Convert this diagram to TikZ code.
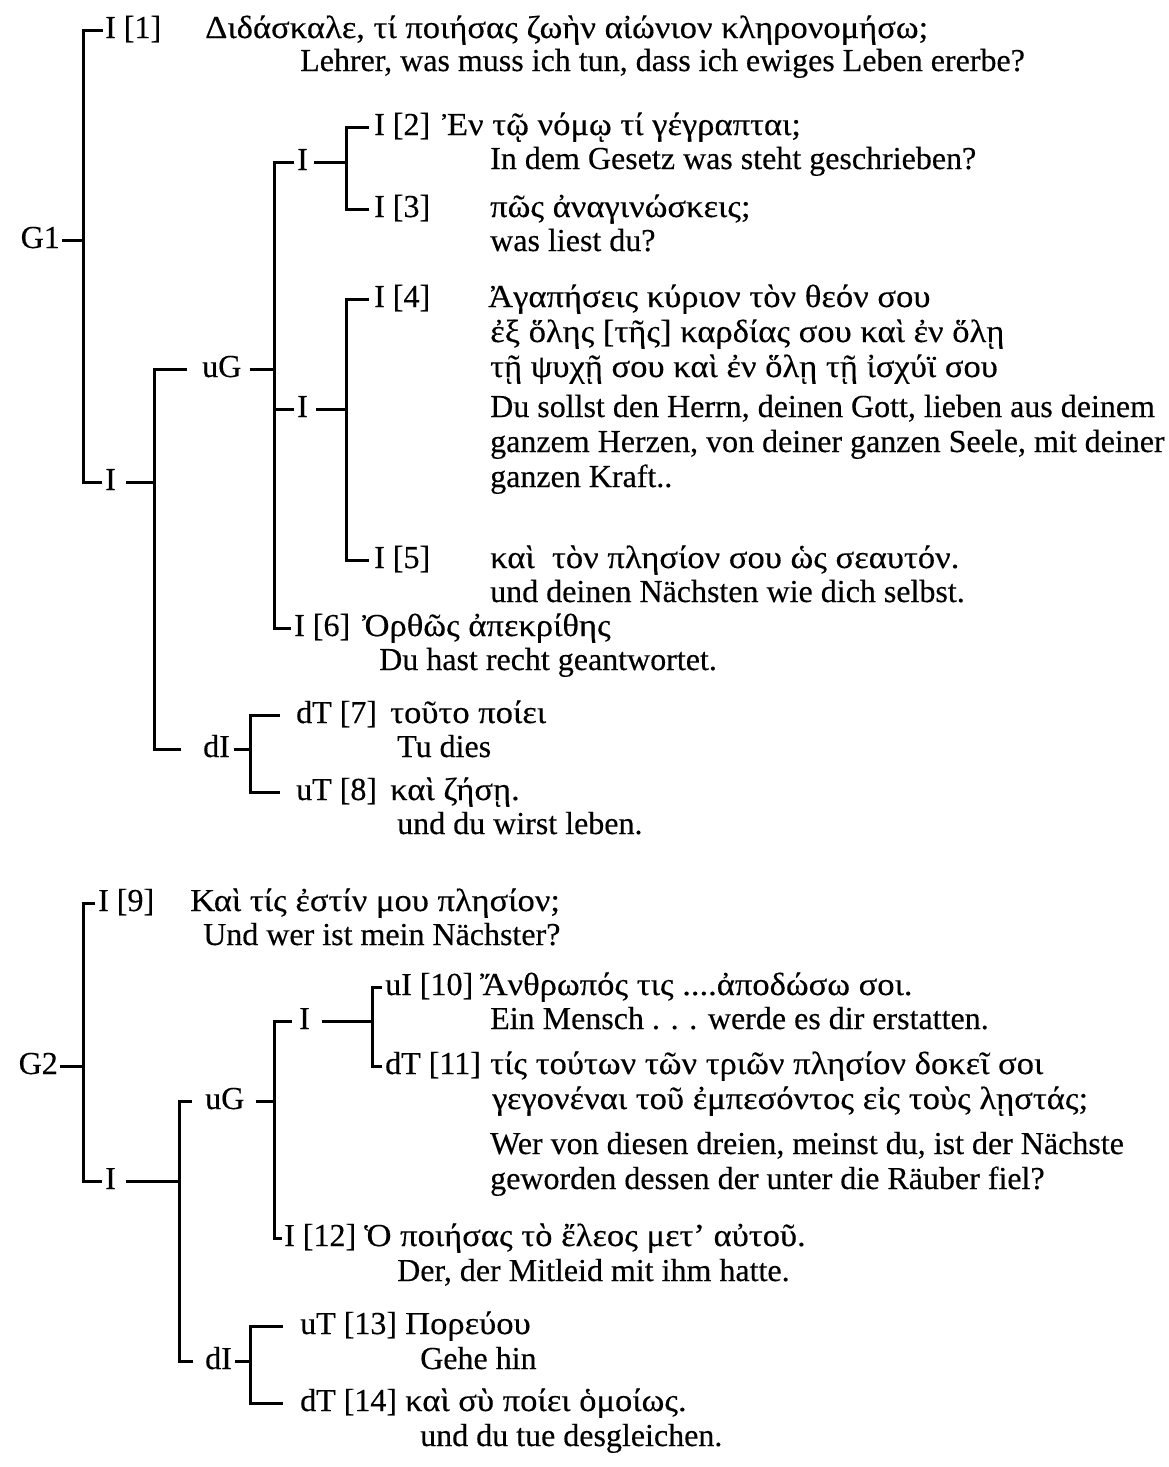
\documentclass[tikz,border=0pt]{standalone}
\usepackage{fontspec}
\setmainfont{Liberation Serif}[FakeBold=0.35]
\newfontfamily\grk{Liberation Serif}[FakeStretch=1.08, FakeBold=0.35]
\begin{document}
\begin{tikzpicture}[x=1pt,y=-1pt,
  every node/.style={inner sep=0pt, font=\fontsize{32}{34}\selectfont},
  lbl/.style={anchor=west, text height=22pt, text depth=6pt},
  lble/.style={anchor=east, text height=22pt, text depth=6pt},
  txt/.style={anchor=west, text height=22pt, text depth=6pt},
  gtxt/.style={txt, font=\fontsize{32}{34}\grk},
  link/.style={line width=3pt}]
\useasboundingbox (0,0) rectangle (1168,1467);

% x positions of the vertical bars
\coordinate (b1) at (83,0);
\coordinate (b2) at (154,0);
\coordinate (b3) at (274,0);
\coordinate (b4) at (346,0);
\coordinate (b6) at (250,0);
\coordinate (b7) at (83,0);
\coordinate (b8) at (179,0);
\coordinate (b9) at (274,0);
\coordinate (b10) at (372,0);
\coordinate (b11) at (250,0);

% ---------------- G1 ----------------
\node[lble] (g1) at (60,240) {G1};
\node[lbl] (n1) at (105,30) {I [1]};
\node[gtxt] (n1g) at (205,30) {Διδάσκαλε, τί ποιήσας ζωὴν αἰώνιον κληρονομήσω;};
\node[txt] (n1d) at (300,63) {Lehrer, was muss ich tun, dass ich ewiges Leben ererbe?};

\node[lbl] (j1) at (105,482) {I};
\node[lbl] (ug1) at (202,369) {uG};
\node[lbl] (di1) at (203,749) {dI};
\node[lbl] (ia) at (297,162) {I};
\node[lbl] (ib) at (297,409) {I};

\node[lbl] (n2) at (374,127) {I [2]};
\node[gtxt] (n2g) at (442,127) {Ἐν τῷ νόμῳ τί γέγραπται;};
\node[txt] (n2d) at (490,161) {In dem Gesetz was steht geschrieben?};

\node[lbl] (n3) at (374,209) {I [3]};
\node[gtxt] (n3g) at (490,209) {πῶς ἀναγινώσκεις;};
\node[txt] (n3d) at (490,243) {was liest du?};

\node[lbl] (n4) at (374,299) {I [4]};
\node[gtxt] (n4g1) at (488,299) {Ἀγαπήσεις κύριον τὸν θεόν σου};
\node[gtxt] (n4g2) at (490,334) {ἐξ ὅλης [τῆς] καρδίας σου καὶ ἐν ὅλῃ};
\node[gtxt] (n4g3) at (490,369) {τῇ ψυχῇ σου καὶ ἐν ὅλῃ τῇ ἰσχύϊ σου};
\node[txt] (n4d1) at (490,409) {Du sollst den Herrn, deinen Gott, lieben aus deinem};
\node[txt] (n4d2) at (490,444) {ganzem Herzen, von deiner ganzen Seele, mit deiner};
\node[txt] (n4d3) at (490,479) {ganzen Kraft..};

\node[lbl] (n5) at (374,560) {I [5]};
\node[gtxt] (n5g) at (490,560) {καὶ\ \ τὸν πλησίον σου ὡς σεαυτόν.};
\node[txt] (n5d) at (490,594) {und deinen Nächsten wie dich selbst.};

\node[lbl] (n6) at (294,628) {I [6]};
\node[gtxt] (n6g) at (362,628) {Ὀρθῶς ἀπεκρίθης};
\node[txt] (n6d) at (379,662) {Du hast recht geantwortet.};

\node[lbl] (n7) at (296,715) {dT [7]};
\node[gtxt] (n7g) at (390,715) {τοῦτο ποίει};
\node[txt] (n7d) at (397,749) {Tu dies};

\node[lbl] (n8) at (296,792) {uT [8]};
\node[gtxt] (n8g) at (390,792) {καὶ ζήσῃ.};
\node[txt] (n8d) at (397,826) {und du wirst leben.};

% connectors of G1
\draw[link, shorten <=2pt] (g1.east) -- (g1.east -| b1);
\draw[link, shorten <=2pt, shorten >=3pt] (n1.west) -- (n1.west -| b1) -- (j1.west -| b1) -- (j1.west);
\draw[link, shorten <=10pt] (j1.east) -- (j1.east -| b2);
\draw[link, shorten <=15pt, shorten >=22pt] (ug1.west) -- (ug1.west -| b2) -- (di1.west -| b2) -- (di1.west);
\draw[link, shorten <=8pt] (ug1.east) -- (ug1.east -| b3);
\draw[link, shorten <=3pt, shorten >=3pt] (ia.west) -- (ia.west -| b3) -- (n6.west -| b3) -- (n6.west);
\draw[link, shorten <=3pt] (ib.west) -- (ib.west -| b3);
\draw[link, shorten <=6pt] (ia.east) -- (ia.east -| b4);
\draw[link, shorten <=5pt, shorten >=5pt] (n2.west) -- (n2.west -| b4) -- (n3.west -| b4) -- (n3.west);
\draw[link, shorten <=8pt] (ib.east) -- (ib.east -| b4);
\draw[link, shorten <=5pt, shorten >=5pt] (n4.west) -- (n4.west -| b4) -- (n5.west -| b4) -- (n5.west);
\draw[link, shorten <=4pt] (di1.east) -- (di1.east -| b6);
\draw[link, shorten <=16pt, shorten >=16pt] (n7.west) -- (n7.west -| b6) -- (n8.west -| b6) -- (n8.west);

% ---------------- G2 ----------------
\node[lble] (g2) at (58,1066) {G2};
\node[lbl] (n9) at (98,903) {I [9]};
\node[gtxt] (n9g) at (190,903) {Καὶ τίς ἐστίν μου πλησίον;};
\node[txt] (n9d) at (203,937) {Und wer ist mein Nächster?};

\node[lbl] (j2) at (105,1181) {I};
\node[lbl] (ug2) at (205,1101) {uG};
\node[lbl] (di2) at (205,1361) {dI};
\node[lbl] (ic) at (299,1021) {I};

\node[lbl] (n10) at (385,987) {uI [10]};
\node[gtxt] (n10g) at (480,987) {Ἄνθρωπός τις ....ἀποδώσω σοι.};
\node[txt] (n10d) at (490,1021) {Ein Mensch . . . werde es dir erstatten.};

\node[lbl] (n11) at (385,1066) {dT [11]};
\node[gtxt] (n11g1) at (490,1066) {τίς τούτων τῶν τριῶν πλησίον δοκεῖ σοι};
\node[gtxt] (n11g2) at (492,1101) {γεγονέναι τοῦ ἐμπεσόντος εἰς τοὺς λῃστάς;};
\node[txt] (n11d1) at (490,1146) {Wer von diesen dreien, meinst du, ist der Nächste};
\node[txt] (n11d2) at (490,1181) {geworden dessen der unter die Räuber fiel?};

\node[lbl] (n12) at (284,1238) {I [12]};
\node[gtxt] (n12g) at (364,1238) {Ὁ ποιήσας τὸ ἔλεος μετ’ αὐτοῦ.};
\node[txt] (n12d) at (397,1273) {Der, der Mitleid mit ihm hatte.};

\node[lbl] (n13) at (300,1326) {uT [13]};
\node[gtxt] (n13g) at (405,1326) {Πορεύου};
\node[txt] (n13d) at (420,1361) {Gehe hin};

\node[lbl] (n14) at (300,1403) {dT [14]};
\node[gtxt] (n14g) at (405,1403) {καὶ σὺ ποίει ὁμοίως.};
\node[txt] (n14d) at (420,1438) {und du tue desgleichen.};

% connectors of G2
\draw[link, shorten <=2pt] (g2.east) -- (g2.east -| b7);
\draw[link, shorten <=3pt, shorten >=3pt] (n9.west) -- (n9.west -| b7) -- (j2.west -| b7) -- (j2.west);
\draw[link, shorten <=10pt] (j2.east) -- (j2.east -| b8);
\draw[link, shorten <=13pt, shorten >=12pt] (ug2.west) -- (ug2.west -| b8) -- (di2.west -| b8) -- (di2.west);
\draw[link, shorten <=11pt] (ug2.east) -- (ug2.east -| b9);
\draw[link, shorten <=7pt, shorten >=2pt] (ic.west) -- (ic.west -| b9) -- (n12.west -| b9) -- (n12.west);
\draw[link, shorten <=12pt] (ic.east) -- (ic.east -| b10);
\draw[link, shorten <=3pt, shorten >=3pt] (n10.west) -- (n10.west -| b10) -- (n11.west -| b10) -- (n11.west);
\draw[link, shorten <=3pt] (di2.east) -- (di2.east -| b11);
\draw[link, shorten <=17pt, shorten >=17pt] (n13.west) -- (n13.west -| b11) -- (n14.west -| b11) -- (n14.west);
\end{tikzpicture}
\end{document}
